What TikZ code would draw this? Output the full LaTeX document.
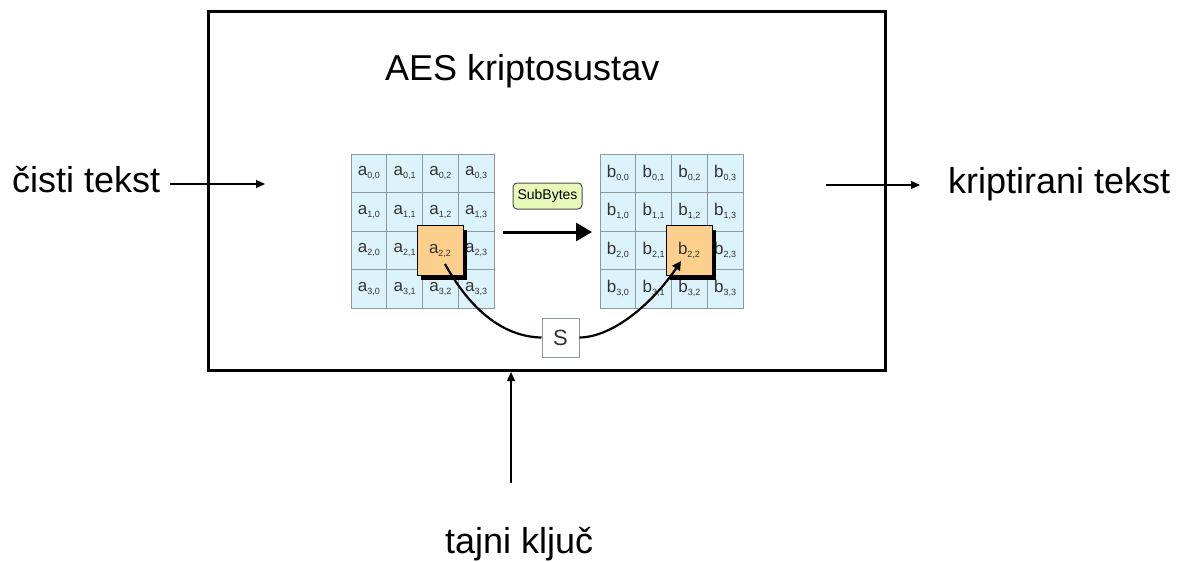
\documentclass[tikz,border=0pt]{standalone}
\usepackage{fontspec}
\setmainfont{Liberation Sans}
\usetikzlibrary{arrows.meta,shadows}
\definecolor{cellblue}{HTML}{DDF3FB}
\definecolor{cellline}{HTML}{8C9A9E}
\definecolor{orangebox}{HTML}{FCD08C}
\definecolor{subgreen}{HTML}{E8F8B8}
\definecolor{celltext}{HTML}{333333}
\newcommand{\cellt}[2]{{\fontsize{17}{17}\selectfont #1}\raisebox{-3pt}{\fontsize{9}{9}\selectfont #2}}
\begin{document}
\begin{tikzpicture}[x=1pt,y=-1pt,
  bigtext/.style={font=\fontsize{36}{40}\selectfont, inner sep=0pt, anchor=base west},
  cell/.style={draw=cellline, fill=cellblue, line width=0.8pt, minimum width=35.75pt, minimum height=38.5pt, inner sep=0pt, text=celltext},
  hot/.style={draw=black, fill=orangebox, line width=0.8pt, minimum width=46pt, minimum height=50pt, inner sep=0pt, text=celltext,
    drop shadow={opacity=1, fill=black, shadow xshift=4pt, shadow yshift=-4pt}},
  thinarrow/.style={line width=1.3pt, -{Triangle[length=9pt,width=8pt]}},
]
\useasboundingbox (0,0) rectangle (1189,562);
% outer box
\node[draw=black, line width=3pt, minimum width=677pt, minimum height=359pt, inner sep=0pt] (sys) at (546.5,191) {};
\node[bigtext] (title) at (385,80) {AES kriptosustav};
\node[bigtext] (plain) at (12,192) {čisti tekst};
\node[bigtext] (cipher) at (948,193) {kriptirani tekst};
\node[bigtext] (key) at (445,553) {tajni ključ};
\coordinate (pin) at (265,184);
\coordinate (cout) at (826,185);
\coordinate (kin) at (511,483);
\draw[thinarrow] (plain.east |- pin) ++(10,0) -- (pin);
\draw[thinarrow] (cout) -- (920,185) coordinate (coutend);
\draw[thinarrow] (kin) -- (kin |- sys.south);
% grids
\foreach \r in {0,...,3}{
  \foreach \c in {0,...,3}{
    \node[cell] (a\r\c) at ({351+35.75*(\c+0.5)},{154+38.5*(\r+0.5)}) {\cellt{a}{\r,\c}};
    \node[cell] (b\r\c) at ({600+35.75*(\c+0.5)},{154+38.5*(\r+0.5)}) {\cellt{b}{\r,\c}};
  }
}
\node[hot] (ahot) at (440,250.5) {\cellt{a}{2,2}};
\node[hot] (bhot) at (689,250.5) {\cellt{b}{2,2}};
% SubBytes
\node[draw=black!70, fill=subgreen, rounded corners=4pt, line width=1pt, minimum width=69pt, minimum height=26pt, inner sep=0pt, font=\fontsize{14}{14}\selectfont] (sub) at (547.5,196) {SubBytes};
\coordinate (bigA) at (503,232);
\coordinate (bigB) at (592,232);
\draw[line width=3pt, -{Triangle[length=16pt,width=18pt]}] (bigA) -- (bigB);
% S box
\node[draw=cellline, fill=white, line width=1pt, minimum width=37pt, minimum height=39pt, inner sep=0pt, font=\fontsize{22}{22}\selectfont, text=celltext] (sbox) at (560.5,337.5) {S};
\coordinate (cs) at (445,264);
\coordinate (ce) at (681,261);
\draw[line width=2.2pt] (cs) .. controls (475,318) and (510,337) .. (sbox.west);
\draw[line width=2.2pt, -{Triangle[length=9pt,width=9pt]}] (sbox.east) .. controls (615,337) and (655,300) .. (ce);
\end{tikzpicture}
\end{document}
